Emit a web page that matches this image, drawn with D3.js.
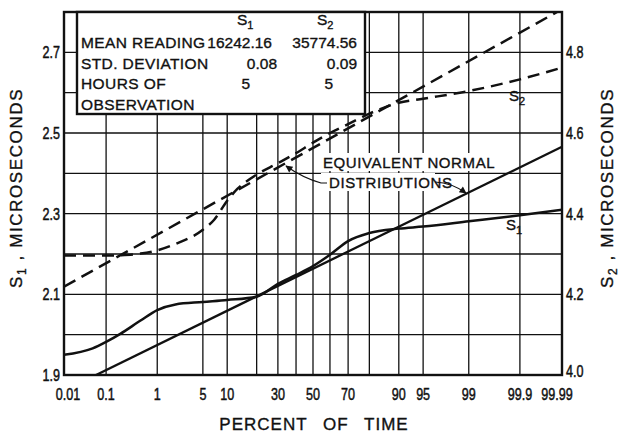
<!DOCTYPE html>
<html lang="en">
<head>
<meta charset="utf-8">
<title>S1 / S2 probability plot</title>
<script src="https://d3js.org/d3.v7.min.js"></script>
<style>
  body { margin: 0; background: #fff; }
  svg text { fill: #111; stroke: #111; stroke-width: 0.35px; }
  .lbl { font-family: "Liberation Sans", Arial, sans-serif; }
</style>
</head>
<body>
<svg width="619" height="437"></svg>
<script>
// percent-of-time axis (normal probability scale)
var pctGrid = [0.01, 0.1, 1, 5, 10, 20, 30, 40, 50, 60, 70, 80, 90, 95, 99, 99.9, 99.99];
var pctTicks = [0.01, 0.1, 1, 5, 10, 30, 50, 70, 90, 95, 99, 99.9, 99.99];
var s1Grid = [1.9, 2.0, 2.1, 2.2, 2.3, 2.4, 2.5, 2.6, 2.7, 2.8];
var s1Ticks = [1.9, 2.1, 2.3, 2.5, 2.7];
var s2Ticks = [4.0, 4.2, 4.4, 4.6, 4.8];

// observed distributions
var s1Pct = [0.01, 0.05, 0.1, 0.2, 0.5, 1, 2, 5, 10, 20, 30, 40, 50, 60, 70, 80, 90, 95, 99, 99.9, 99.99];
var s1Obs = [1.950, 1.966, 1.982, 2.002, 2.035, 2.061, 2.075, 2.081, 2.086, 2.094, 2.126, 2.148, 2.170, 2.198, 2.232, 2.252, 2.263, 2.268, 2.281, 2.296, 2.310];
var s2Pct = [0.01, 0.1, 0.2, 0.5, 1, 2, 5, 7, 10, 13, 16, 20, 30, 40, 50, 60, 70, 80, 90, 95, 99, 99.9, 99.99];
var s2Obs = [4.296, 4.296, 4.297, 4.301, 4.309, 4.325, 4.360, 4.385, 4.432, 4.462, 4.480, 4.497, 4.525, 4.550, 4.576, 4.600, 4.622, 4.648, 4.675, 4.685, 4.704, 4.733, 4.762];

// equivalent normal distributions (straight lines on this paper)
var normPct = [0.01, 99.99];
var s1Norm = [1.861, 2.466];
var s2Norm = [4.219, 4.907];

// table in the corner
var statNames = ["MEAN READING", "STD. DEVIATION", "HOURS OF", "OBSERVATION"];
var s1Stats = ["16242.16", "0.08", "5"];
var s2Stats = ["35774.56", "0.09", "5"];

var svg = d3.select("svg");
var marge = {left: 64, right: 562, top: 12, bottom: 375};

// inverse normal cdf (Acklam)
function probit(p) {
    var a = [-39.69683028665376, 220.9460984245205, -275.9285104469687, 138.357751867269, -30.66479806614716, 2.506628277459239];
    var b = [-54.47609879822406, 161.5858368580409, -155.6989798598866, 66.80131188771972, -13.28068155288572];
    var c = [-0.007784894002430293, -0.3223964580411365, -2.400758277161838, -2.549732539343734, 4.374664141464968, 2.938163982698783];
    var d = [0.007784695709041462, 0.3224671290700398, 2.445134137142996, 3.754408661907416];
    var q, r;
    if (p < 0.02425) {
        q = Math.sqrt(-2 * Math.log(p));
        return (((((c[0]*q+c[1])*q+c[2])*q+c[3])*q+c[4])*q+c[5]) / ((((d[0]*q+d[1])*q+d[2])*q+d[3])*q+1);
    } else if (p > 1 - 0.02425) {
        q = Math.sqrt(-2 * Math.log(1 - p));
        return -(((((c[0]*q+c[1])*q+c[2])*q+c[3])*q+c[4])*q+c[5]) / ((((d[0]*q+d[1])*q+d[2])*q+d[3])*q+1);
    }
    q = p - 0.5; r = q * q;
    return (((((a[0]*r+a[1])*r+a[2])*r+a[3])*r+a[4])*r+a[5])*q / (((((b[0]*r+b[1])*r+b[2])*r+b[3])*r+b[4])*r+1);
}

var zScale = d3.scaleLinear()
    .domain([probit(0.0001), probit(0.9999)])
    .range([marge.left, marge.right]);
function xScale(pct) { return zScale(probit(pct / 100)); }

var y1 = d3.scaleLinear().domain([1.9, 2.8]).range([marge.bottom, marge.top]);
var y2 = d3.scaleLinear().domain([4.0, 4.9]).range([marge.bottom, marge.top]);

svg.append("clipPath").attr("id", "plot")
    .append("rect")
    .attr("x", marge.left).attr("y", marge.top)
    .attr("width", marge.right - marge.left).attr("height", marge.bottom - marge.top);

// grid
var grid = svg.append("g").attr("stroke", "#111").attr("stroke-width", 1.3);
grid.selectAll(".vg").data(pctGrid).enter().append("line")
    .attr("x1", function(d){ return xScale(d); })
    .attr("x2", function(d){ return xScale(d); })
    .attr("y1", marge.top).attr("y2", marge.bottom);
grid.selectAll(".hg").data(s1Grid).enter().append("line")
    .attr("x1", marge.left).attr("x2", marge.right)
    .attr("y1", function(d){ return y1(d); })
    .attr("y2", function(d){ return y1(d); });

// curves
var plot = svg.append("g").attr("clip-path", "url(#plot)").attr("fill", "none").attr("stroke", "#111");

function lineFor(yS) {
    return d3.line()
        .x(function(d){ return xScale(d[0]); })
        .y(function(d){ return yS(d[1]); })
        .curve(d3.curveMonotoneX);
}

plot.append("path")
    .attr("d", lineFor(y1)(d3.zip(normPct, s1Norm)))
    .attr("stroke-width", 2.3);
plot.append("path")
    .attr("d", lineFor(y1)(d3.zip(s1Pct, s1Obs)))
    .attr("stroke-width", 2.5);
plot.append("path")
    .attr("d", lineFor(y2)(d3.zip(normPct, s2Norm)))
    .attr("stroke-width", 2.5)
    .attr("stroke-dasharray", "13,7");
plot.append("path")
    .attr("d", lineFor(y2)(d3.zip(s2Pct, s2Obs)))
    .attr("stroke-width", 2.5)
    .attr("stroke-dasharray", "12,7");

// frame
svg.append("rect")
    .attr("x", marge.left).attr("y", marge.top)
    .attr("width", marge.right - marge.left).attr("height", marge.bottom - marge.top)
    .attr("fill", "none").attr("stroke", "#111").attr("stroke-width", 2.4);

// tick labels, drawn narrow like the lettering on the sheet
function tickText(sel) {
    sel.attr("class", "lbl")
        .style("font-size", "17px")
        .style("stroke-width", "0.5px");
}
svg.selectAll(".yl").data(s1Ticks).enter().append("text")
    .call(tickText)
    .attr("transform", function(d){ return "translate(60," + (y1(d) + 6) + ") scale(0.74,1)"; })
    .attr("text-anchor", "end")
    .text(function(d){ return d3.format(".1f")(d); });
svg.selectAll(".yr").data(s2Ticks).enter().append("text")
    .call(tickText)
    .attr("transform", function(d){ return "translate(566," + (y2(d) + (d === 4.0 ? 2 : 6)) + ") scale(0.74,1)"; })
    .text(function(d){ return d3.format(".1f")(d); });
svg.selectAll(".xl").data(pctTicks).enter().append("text")
    .call(tickText)
    .attr("transform", function(d){
        var x = xScale(d) + (d === 99.99 ? -5 : d === 0.01 ? 4 : 0);
        return "translate(" + x + ",400) scale(0.74,1)";
    })
    .attr("text-anchor", "middle")
    .text(function(d){ return String(d); });

// axis titles
svg.append("text").attr("class", "lbl")
    .attr("x", 314).attr("y", 430)
    .attr("text-anchor", "middle")
    .style("font-size", "17px").style("letter-spacing", "1px").style("word-spacing", "10px")
    .text("PERCENT OF TIME");

function sTitle(x, sub) {
    var t = svg.append("text").attr("class", "lbl")
        .attr("transform", "translate(" + x + ",188) rotate(-90)")
        .attr("text-anchor", "middle")
        .style("font-size", "17px").style("letter-spacing", "1.6px");
    t.append("tspan").text("S");
    t.append("tspan").attr("dy", 4).style("font-size", "12px").text(sub);
    t.append("tspan").attr("dy", -4).text(" ,  MICROSECONDS");
}
sTitle(22, "1");
sTitle(613, "2");

// table box
svg.append("rect")
    .attr("x", 77).attr("y", marge.top)
    .attr("width", 288).attr("height", 102)
    .attr("fill", "#fff").attr("stroke", "#111").attr("stroke-width", 2.4);

var tb = svg.append("g").attr("class", "lbl").style("font-size", "15.5px");
function subLabel(g, x, y, sub, size) {
    var t = g.append("text").attr("x", x).attr("y", y).style("font-size", size);
    t.append("tspan").text("S");
    t.append("tspan").attr("dy", 4).style("font-size", "11px").text(sub);
}
subLabel(tb, 237, 25, "1", "15.5px");
subLabel(tb, 317, 25, "2", "15.5px");

var rowY = [48, 69, 89, 110];
tb.selectAll(".rn").data(statNames).enter().append("text")
    .attr("x", 81).attr("y", function(d, i){ return rowY[i]; })
    .style("letter-spacing", "0.4px")
    .text(function(d){ return d; });

var s1X = [272, 277, 250];
var s2X = [357, 357, 333];
tb.selectAll(".v1").data(s1Stats).enter().append("text")
    .attr("x", function(d, i){ return s1X[i]; })
    .attr("y", function(d, i){ return rowY[i]; })
    .attr("text-anchor", "end")
    .text(function(d){ return d; });
tb.selectAll(".v2").data(s2Stats).enter().append("text")
    .attr("x", function(d, i){ return s2X[i]; })
    .attr("y", function(d, i){ return rowY[i]; })
    .attr("text-anchor", "end")
    .text(function(d){ return d; });

// annotations
svg.append("defs").append("marker")
    .attr("id", "arr").attr("viewBox", "0 0 10 10")
    .attr("refX", 9).attr("refY", 5)
    .attr("markerWidth", 9).attr("markerHeight", 7)
    .attr("orient", "auto").attr("markerUnits", "userSpaceOnUse")
    .append("path").attr("d", "M0,0 L10,5 L0,10 Z").attr("fill", "#111");

var ann = svg.append("g").attr("class", "lbl").style("font-size", "15px").style("letter-spacing", "0.6px");
ann.append("rect").attr("x", 320).attr("y", 153).attr("width", 176).attr("height", 18).attr("fill", "#fff");
ann.append("rect").attr("x", 321).attr("y", 173).attr("width", 114).attr("height", 18).attr("fill", "#fff");
ann.append("text").attr("x", 323).attr("y", 168).text("EQUIVALENT  NORMAL");
ann.append("text").attr("x", 329).attr("y", 188).text("DISTRIBUTIONS");
ann.append("path")
    .attr("d", "M327,183 L321,183 Q303,178 286,166")
    .attr("fill", "none").attr("stroke", "#111").attr("stroke-width", 1.2)
    .attr("marker-end", "url(#arr)");
ann.append("path")
    .attr("d", "M435,182 Q452,183 466,193")
    .attr("fill", "none").attr("stroke", "#111").attr("stroke-width", 1.2)
    .attr("marker-end", "url(#arr)");

var cl = svg.append("g").attr("class", "lbl");
subLabel(cl, 509, 101, "2", "15px");
subLabel(cl, 506, 230, "1", "15px");
</script>
</body>
</html>
